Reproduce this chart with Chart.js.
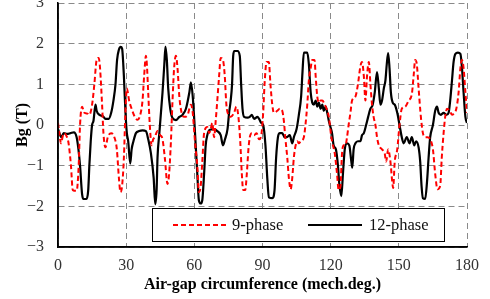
<!DOCTYPE html>
<html>
<head>
<meta charset="utf-8">
<script src="https://cdn.jsdelivr.net/npm/chart.js@4/dist/chart.umd.min.js"></script>
<style>
  html, body { margin: 0; padding: 0; background: #fff; }
  #wrap { width: 490px; height: 299px; position: relative; }
</style>
</head>
<body>
<div id="wrap"><canvas id="bg"></canvas></div>
<script>
// ========== data ==========
const X_TICKS = [0, 30, 60, 90, 120, 150, 180];
const Y_TICKS = [-3, -2, -1, 0, 1, 2, 3];

const PH9_X = [0, 0.6, 1.3, 2.2, 2.8, 3.8, 4.5, 5, 5.7, 6.5, 8.2, 9.1, 9.7, 10.6, 11.6, 13, 13.8, 15, 16, 17, 17.9, 18.5, 19.4, 20, 20.9, 21.9, 23.4, 24.8, 25.9, 26.8, 27.5, 28.2, 29, 29.6,
  30.3, 31.3, 32.4, 33.8, 35, 36.2, 37.2, 37.9, 38.7, 39.1, 39.7, 40.4, 41.2, 41.9, 42.6, 43.8, 45, 46, 47, 48.2, 48.9, 49.7, 50.4, 51.1, 51.9, 52.6, 53.4, 54.4, 55.6, 57.1, 57.8, 58.5, 59.3,
  60, 60.6, 61.3, 62, 62.8, 63.5, 64.3, 65.7, 66.5, 67.2, 67.9, 68.7, 69.4, 70.1, 70.9, 71.6, 72.6, 73.4, 74.1, 75, 76, 77.5, 78.5, 79.4, 80.2, 80.9, 81.5, 82.4, 83.1, 83.8, 84.4, 85.3, 86.3, 87.4, 88.5, 89.3,
  90.3, 90.9, 91.8, 92.8, 93.5, 94.3, 95, 96.5, 97.6, 98.7, 99.4, 100.1, 100.9, 101.6, 102.4, 103.1, 103.8, 104.6, 105.3, 106, 106.8, 108.2, 108.9, 109.7, 110.4, 111.2, 111.9, 112.9, 113.4, 114.1, 114.8, 115.6, 116.3, 117.4, 118.2, 119.2,
  120.3, 120.8, 121.8, 122.8, 123.5, 124.3, 125, 125.7, 126.5, 127.2, 127.9, 128.7, 129.4, 130.9, 132, 133.1, 133.8, 134.6, 135.3, 136, 136.8, 137.5, 138.2, 138.9, 139.7, 140.4, 141.2, 142.6, 143.8, 144.4, 145.3, 146.3, 147.1, 147.5, 148.2, 149.3,
  150.3, 151.3, 152.8, 154.3, 155.7, 156.5, 157.2, 157.9, 158.7, 159.7, 160.6, 161.6, 162.6, 163.8, 165, 166, 167, 168.2, 168.9, 169.7, 170.4, 171.2, 172.4, 173.4, 174.4, 175.3, 176.3, 177.1, 177.8, 178.5, 179.3, 180];
const PH9_Y = [0.05, -0.2, -0.45, -0.25, -0.2, -0.28, -0.4, -0.6, -1.0, -1.6, -1.62, -1.0, 0, 0.45, 0.3, 0.28, 0.25, 0.5, 1.0, 1.6, 1.65, 1.4, 0.5, -0.2, -0.55, -0.3, -0.2, -0.3, -0.6, -1.3, -1.65, -1.5, -0.8, 0.2,
  0.9, 0.6, 0.4, 0.2, 0.13, 0.25, 0.6, 1.2, 1.7, 1.5, 0.8, 0, -0.5, -0.35, -0.3, -0.15, -0.25, -0.35, -0.8, -1.45, -1.2, -0.4, 0.6, 1.4, 1.7, 1.4, 0.7, 0.3, 0.2, 0.25, 0.4, 0.5, 0.3,
  -0.2, -0.6, -1.0, -1.65, -1.5, -0.9, -0.2, -0.05, -0.2, -0.1, 0.05, -0.3, 0.1, 0.6, 1.2, 1.65, 1.6, 1.2, 0.5, 0.25, 0.2, 0.3, 0.45, 0.2, -0.4, -1.2, -1.6, -1.6, -1.2, -0.6, -0.3, -0.2, -0.25, -0.2, -0.35, -0.3,
  0.3, 1.0, 1.55, 1.55, 1.0, 0.5, 0.3, 0.35, 0.4, 0.35, 0.1, -0.35, -0.8, -1.3, -1.58, -1.3, -0.8, -0.5, -0.4, -0.45, -0.4, -0.3, 0, 0.5, 1.1, 1.4, 1.6, 1.6, 1.2, 0.7, 0.55, 0.6, 0.6, 0.5, 0.4, 0.2,
  -0.3, -0.45, -0.7, -1.2, -1.6, -1.5, -0.7, -0.5, -0.5, -0.3, 0, 0.3, 0.6, 0.7, 1.0, 1.45, 1.55, 1.2, 0.6, 1.2, 1.55, 1.0, 0.5, 0.2, 0, -0.3, -0.5, -0.6, -0.7, -0.9, -0.6, -0.9, -1.4, -1.55, -0.9, -0.6,
  0, 0.4, 0.45, 0.6, 0.75, 1.2, 1.6, 1.5, 0.9, 0.2, -0.2, -0.3, -0.3, -0.35, -0.6, -1.2, -1.58, -1.5, -0.8, -0.2, 0.2, 0.4, 0.35, 0.25, 0.3, 0.4, 0.8, 1.4, 1.6, 1.4, 0.8, 0.3];

const PH12_X = [0, 1.5, 2.5, 4, 5.5, 7, 8.2, 9, 9.7, 10.6, 11.2, 12.5, 13.3, 13.8, 14.4, 15, 15.6, 16.5, 17, 18.2, 19.7, 20.9, 22.3, 23.4, 24.4, 25.3, 26, 26.8, 27.6, 28.2, 29, 29.7,
  30.3, 30.9, 31.8, 32.4, 33.2, 34.3, 35.7, 37.2, 38.7, 39.7, 40.9, 42.1, 42.8, 43.4, 43.8, 44.6, 45.3, 46, 46.8, 47.3, 47.9, 48.5, 49.4, 50.4, 51.9, 53.4, 54.8, 56.3, 57.8, 58.5, 59.3,
  60, 60.6, 61.3, 62, 62.8, 63.5, 64.3, 65, 65.7, 66.7, 68.7, 70.1, 71.6, 72.6, 73.5, 74.6, 75.3, 76, 76.6, 77.1, 77.6, 79, 80, 80.6, 81.2, 81.9, 83.4, 84.4, 85.3, 86.3, 87.8, 88.5, 89.5,
  90.3, 91.3, 92.1, 92.8, 94.3, 95.3, 96, 96.8, 97.6, 98.7, 99.7, 100.6, 102, 103.1, 103.8, 105, 106, 107, 107.6, 108.2, 109.7, 110.4, 111.2, 111.9, 112.6, 113.4, 114.1, 114.8, 115.6, 116.3, 117, 117.8, 118.5, 119.2, 119.9,
  120.6, 121.3, 122.3, 123.2, 123.8, 124.7, 125.4, 126.2, 127.2, 128.2, 129.1, 129.5, 130.1, 130.9, 132, 133.1, 133.8, 134.6, 135.6, 136.5, 137.5, 138.5, 139.4, 140.4, 141.2, 141.9, 142.6, 143.4, 144.1, 144.7, 145.3, 145.9, 146.5, 147.3, 148.2, 149.3,
  150.3, 151.3, 152.1, 153.5, 154.7, 155.7, 156.8, 157.6, 158.7, 159.4, 160, 160.6, 161.6, 162.4, 163.1, 163.8, 165, 166, 166.8, 167.5, 168.5, 169.7, 170.9, 171.9, 172.6, 173.4, 174.1, 174.9, 176, 177.1, 177.8, 178.5, 179.3, 180];
const PH12_Y = [-0.1, -0.3, -0.2, -0.22, -0.2, -0.18, -0.3, -0.6, -1.0, -1.7, -1.82, -1.82, -1.6, -1.0, -0.4, 0, 0.1, 0.5, 0.35, 0.25, 0.22, 0.15, 0.15, 0.3, 0.6, 1.0, 1.6, 1.85, 1.92, 1.88, 1.2, 0.3,
  -0.2, -0.4, -0.95, -0.6, -0.4, -0.2, -0.15, -0.13, -0.15, -0.35, -0.7, -1.3, -1.95, -1.6, -0.8, -0.2, 0.3, 0.8, 1.5, 1.93, 1.6, 0.9, 0.4, 0.17, 0.12, 0.2, 0.25, 0.4, 0.8, 1.05, 0.7,
  0.1, -0.5, -1.2, -1.85, -1.93, -1.85, -1.2, -0.5, -0.25, -0.12, -0.1, -0.15, -0.25, -0.5, -0.35, -0.1, 0.3, 0.6, 1.0, 1.7, 1.82, 1.82, 1.7, 1.0, 0.4, 0.2, 0.18, 0.2, 0.25, 0.15, 0.2, 0.15, 0.05,
  0, -0.5, -1.3, -1.78, -1.8, -1.6, -0.8, -0.3, -0.2, -0.2, -0.3, -0.3, -0.25, -0.45, -0.3, -0.1, 0.25, 0.7, 1.3, 1.78, 1.78, 1.5, 0.8, 0.55, 0.5, 0.6, 0.45, 0.55, 0.4, 0.5, 0.35, 0.45, 0.3, 0.1, -0.05,
  -0.2, -0.5, -0.6, -1.0, -1.45, -1.75, -1.2, -0.6, -0.45, -0.5, -0.9, -1.05, -0.6, -0.45, -0.4, -0.4, -0.25, -0.2, 0, 0.2, 0.4, 0.5, 0.8, 1.3, 0.9, 0.5, 0.6, 0.9, 1.1, 1.5, 1.77, 1.4, 0.8, 0.55, 0.5, 0.3,
  0, -0.3, -0.45, -0.3, -0.45, -0.3, -0.5, -0.4, -0.55, -0.9, -1.5, -1.8, -1.82, -1.4, -0.8, -0.3, 0, 0.35, 0.45, 0.3, 0.25, 0.3, 0.25, 0.3, 0.6, 1.1, 1.55, 1.75, 1.78, 1.75, 1.4, 0.8, 0.2, 0.05];

const SERIES_NAMES = ["9-phase", "12-phase"];

// ========== helpers ==========
const zip = (xs, ys) => xs.map((x, i) => ({ x, y: ys[i] }));
const FONT = "'Liberation Serif', 'Times New Roman', serif";

// legend drawn inside the plot, bottom centre
const boxLegend = {
  id: "boxLegend",
  afterDraw(chart) {
    const ctx = chart.ctx;
    ctx.save();
    ctx.fillStyle = "#fff";
    ctx.fillRect(152, 208, 292, 33);
    ctx.strokeStyle = "#000";
    ctx.lineWidth = 1;
    ctx.strokeRect(152.5, 208.5, 292, 33);

    ctx.lineWidth = 2;
    ctx.strokeStyle = "#ff0000";
    ctx.setLineDash([5, 3]);
    ctx.beginPath(); ctx.moveTo(173, 225); ctx.lineTo(229, 225); ctx.stroke();
    ctx.setLineDash([]);
    ctx.strokeStyle = "#000";
    ctx.lineWidth = 2.2;
    ctx.beginPath(); ctx.moveTo(308, 225); ctx.lineTo(362, 225); ctx.stroke();

    ctx.fillStyle = "#111";
    ctx.font = "16.5px " + FONT;
    ctx.textBaseline = "middle";
    ctx.fillText(SERIES_NAMES[0], 232, 226);
    ctx.fillText(SERIES_NAMES[1], 369, 226);
    ctx.restore();
  },
};

// solid black left/bottom axis lines like the original
const axisLines = {
  id: "axisLines",
  afterDraw(chart) {
    const { ctx, chartArea: a } = chart;
    ctx.save();
    ctx.strokeStyle = "#000";
    ctx.lineWidth = 1.5;
    ctx.beginPath();
    ctx.moveTo(a.left, a.top);
    ctx.lineTo(a.left, a.bottom);
    ctx.lineTo(a.right, a.bottom);
    ctx.stroke();
    ctx.restore();
  },
};

new Chart(document.getElementById("bg"), {
  type: "line",
  data: {
    datasets: [
      {
        label: SERIES_NAMES[0],
        data: zip(PH9_X, PH9_Y),
        borderColor: "#ff0000",
        borderWidth: 2,
        borderDash: [5, 3],
        pointRadius: 0,
        cubicInterpolationMode: "monotone",
      },
      {
        label: SERIES_NAMES[1],
        data: zip(PH12_X, PH12_Y),
        borderColor: "#000",
        borderWidth: 2.2,
        pointRadius: 0,
        cubicInterpolationMode: "monotone",
      },
    ],
  },
  options: {
    responsive: true,
    maintainAspectRatio: false,
    animation: false,
    layout: { padding: { left: 0, right: 23, top: 3, bottom: 0 } },
    plugins: { legend: { display: false }, tooltip: { enabled: false } },
    scales: {
      x: {
        type: "linear",
        min: 0,
        max: 180,
        afterBuildTicks: (s) => { s.ticks = X_TICKS.map((v) => ({ value: v })); },
        afterFit: (s) => { s.height = 52; s.paddingLeft = 0; s.paddingRight = 0; },
        ticks: { color: "#333", font: { family: FONT, size: 16 }, padding: 9 },
        grid: { color: "#8a8a8a", lineWidth: 1, drawTicks: false },
        border: { color: "#000", width: 1.5, dash: [6, 4] },
        title: {
          display: true,
          text: "Air-gap circumference (mech.deg.)",
          color: "#000",
          font: { family: FONT, size: 16, weight: "bold" },
          padding: { top: 0, bottom: 5 },
        },
      },
      y: {
        min: -3,
        max: 3,
        afterBuildTicks: (s) => { s.ticks = Y_TICKS.map((v) => ({ value: v })); },
        afterFit: (s) => { s.width = 58; s.paddingTop = 0; s.paddingBottom = 0; },
        ticks: {
          color: "#333",
          font: { family: FONT, size: 16 },
          padding: 14,
          callback: (v) => (v < 0 ? "\u2212" + Math.abs(v) : String(v)),
        },
        grid: { color: "#8a8a8a", lineWidth: 1, drawTicks: false },
        border: { color: "#000", width: 1.5, dash: [6, 4] },
        title: {
          display: true,
          text: "Bg (T)",
          color: "#000",
          font: { family: FONT, size: 16, weight: "bold" },
          padding: { top: 13, bottom: 0 },
        },
      },
    },
  },
  plugins: [boxLegend, axisLines],
});
</script>
</body>
</html>
